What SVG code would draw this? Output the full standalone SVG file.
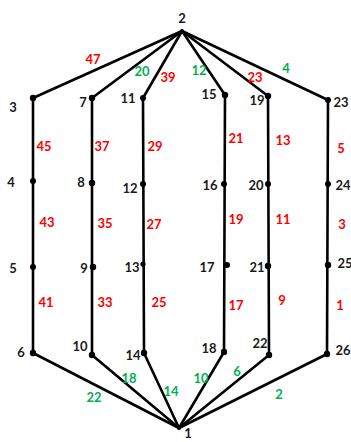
<svg xmlns="http://www.w3.org/2000/svg" width="351" height="442" viewBox="0 0 351 442">
<style>
text{font-family:"Lato","Liberation Sans",sans-serif;font-weight:bold;font-size:13px;text-anchor:middle}
.n{fill:#1a1a1a}
.r{fill:#ff0000}
.g{fill:#00b050}
line{stroke:#000;stroke-width:2.6;stroke-linecap:round}
circle{fill:#000}
</style>
<rect width="351" height="442" fill="#fff"/>
<g id="connectors">
<line x1="182" y1="31" x2="33" y2="98"/>
<line x1="182" y1="31" x2="92" y2="98"/>
<line x1="182" y1="31" x2="143" y2="98"/>
<line x1="182" y1="31" x2="225" y2="95"/>
<line x1="182" y1="31" x2="268" y2="96"/>
<line x1="182" y1="31" x2="328" y2="100"/>
<line x1="33" y1="98" x2="33" y2="353"/>
<line x1="92" y1="98" x2="92" y2="355"/>
<line x1="143" y1="98" x2="144" y2="353"/>
<line x1="225" y1="95" x2="224" y2="352"/>
<line x1="268" y1="96" x2="269" y2="355"/>
<line x1="328" y1="100" x2="327" y2="354"/>
<line x1="179" y1="428" x2="33" y2="353"/>
<line x1="179" y1="428" x2="92" y2="355"/>
<line x1="179" y1="428" x2="144" y2="353"/>
<line x1="179" y1="428" x2="224" y2="352"/>
<line x1="179" y1="428" x2="269" y2="355"/>
<line x1="179" y1="428" x2="327" y2="354"/>
<text class="r" x="93" y="64">47</text>
<text class="g" x="142" y="76">20</text>
<text class="r" x="168" y="82">39</text>
<text class="g" x="199" y="75">12</text>
<text class="r" x="255" y="82">23</text>
<text class="g" x="286" y="73">4</text>
<text class="r" x="44" y="151">45</text>
<text class="r" x="102" y="151">37</text>
<text class="r" x="155" y="151">29</text>
<text class="r" x="236" y="143">21</text>
<text class="r" x="283" y="145">13</text>
<text class="r" x="341" y="153">5</text>
<text class="r" x="47" y="227">43</text>
<text class="r" x="105" y="228">35</text>
<text class="r" x="154" y="229">27</text>
<text class="r" x="236" y="224">19</text>
<text class="r" x="283" y="224">11</text>
<text class="r" x="342" y="229">3</text>
<text class="r" x="46" y="307">41</text>
<text class="r" x="105" y="307">33</text>
<text class="r" x="159" y="307">25</text>
<text class="r" x="236" y="310">17</text>
<text class="r" x="282" y="305">9</text>
<text class="r" x="340" y="310">1</text>
<text class="g" x="94" y="402">22</text>
<text class="g" x="129" y="383">18</text>
<text class="g" x="171" y="396">14</text>
<text class="g" x="201" y="383">10</text>
<text class="g" x="237" y="376">6</text>
<text class="g" x="279" y="399">2</text>
</g>
<g id="n1"><circle cx="179" cy="428" r="2"/><text class="n" x="188" y="438">1</text></g>
<g id="n2"><circle cx="182" cy="31" r="2"/><text class="n" x="182" y="23">2</text></g>
<g id="n3"><circle cx="33" cy="98" r="3.2"/><text class="n" x="13" y="112">3</text></g>
<g id="n4"><circle cx="33" cy="181" r="3"/><text class="n" x="11" y="187">4</text></g>
<g id="n5"><circle cx="33" cy="267" r="3"/><text class="n" x="13" y="273">5</text></g>
<g id="n6"><circle cx="33" cy="353" r="3.2"/><text class="n" x="21" y="357">6</text></g>
<g id="n7"><circle cx="92" cy="98" r="3.2"/><text class="n" x="83" y="107">7</text></g>
<g id="n8"><circle cx="92" cy="183" r="3.2"/><text class="n" x="81" y="187">8</text></g>
<g id="n9"><circle cx="93" cy="267" r="3.2"/><text class="n" x="84" y="273">9</text></g>
<g id="n10"><circle cx="92" cy="355" r="3.2"/><text class="n" x="80" y="351">10</text></g>
<g id="n11"><circle cx="143" cy="98" r="3"/><text class="n" x="128" y="103">11</text></g>
<g id="n12"><circle cx="143" cy="184" r="3"/><text class="n" x="130" y="193">12</text></g>
<g id="n13"><circle cx="143" cy="264" r="2.6"/><text class="n" x="132" y="272">13</text></g>
<g id="n14"><circle cx="144" cy="353" r="3.2"/><text class="n" x="133" y="360">14</text></g>
<g id="n15"><circle cx="225" cy="95" r="3.2"/><text class="n" x="209" y="99">15</text></g>
<g id="n16"><circle cx="224" cy="184" r="3"/><text class="n" x="210" y="190">16</text></g>
<g id="n17"><circle cx="227" cy="265" r="3"/><text class="n" x="207" y="272">17</text></g>
<g id="n18"><circle cx="224" cy="352" r="3.2"/><text class="n" x="209" y="353">18</text></g>
<g id="n19"><circle cx="268" cy="96" r="3.2"/><text class="n" x="257" y="105">19</text></g>
<g id="n20"><circle cx="268" cy="184" r="3"/><text class="n" x="256" y="190">20</text></g>
<g id="n21"><circle cx="268" cy="266" r="3.2"/><text class="n" x="257" y="272">21</text></g>
<g id="n22"><circle cx="269" cy="355" r="3.2"/><text class="n" x="260" y="348">22</text></g>
<g id="n23"><circle cx="328" cy="100" r="3"/><text class="n" x="341" y="107">23</text></g>
<g id="n24"><circle cx="328" cy="184" r="3"/><text class="n" x="343" y="190">24</text></g>
<g id="n25"><circle cx="328" cy="265" r="3.2"/><text class="n" x="345" y="268">25</text></g>
<g id="n26"><circle cx="327" cy="354" r="3.2"/><text class="n" x="343" y="355">26</text></g>
</svg>
